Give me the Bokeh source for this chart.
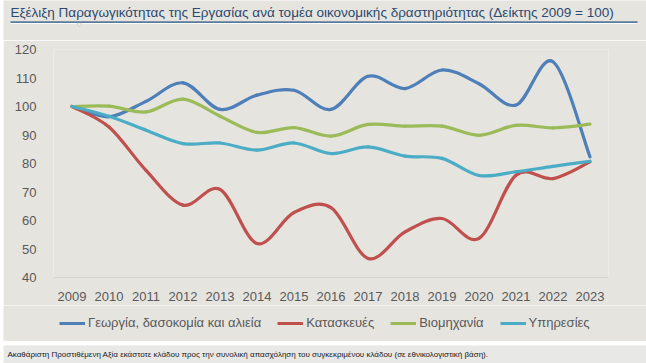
from bokeh.plotting import figure
from bokeh.models import (Range1d, FixedTicker, Label, BoxAnnotation, Legend,
                          LegendItem, ColumnDataSource, PolyAnnotation)
from bokeh.layouts import column
from bokeh.embed import file_html
from bokeh.resources import INLINE

# ---- data -------------------------------------------------------------
years = [2009, 2010, 2011, 2012, 2013, 2014, 2015, 2016, 2017, 2018, 2019, 2020, 2021, 2022, 2023]
agriculture = [100, 96.4, 101.8, 108.3, 99.0, 104.0, 105.7, 99.0, 110.6, 106.3, 112.8, 108.0, 100.5, 115.7, 82.3]
construction = [100, 92.8, 77.6, 65.4, 70.9, 51.9, 62.8, 64.5, 46.7, 56.0, 60.7, 53.7, 75.9, 74.7, 80.6]
industry = [100, 100.1, 98.1, 102.6, 96.6, 90.9, 92.6, 89.6, 93.7, 93.1, 93.1, 89.9, 93.4, 92.5, 93.8]
services = [100, 96.6, 91.7, 87.0, 87.2, 84.7, 87.2, 83.5, 85.8, 82.6, 81.8, 75.8, 77.1, 79.0, 80.8]
y_ticks = [40, 50, 60, 70, 80, 90, 100, 110, 120]
series_names = ["Γεωργία, δασοκομία και αλιεία", "Κατασκευές", "Βιομηχανία", "Υπηρεσίες"]
series_colors = ["#4f7fb8", "#c0504d", "#9bbb59", "#4bacc6"]
title_text = "Εξέλιξη Παραγωγικότητας της Εργασίας ανά τομέα οικονομικής δραστηριότητας (Δείκτης 2009 = 100)"
footnote_text = ("Ακαθάριστη Προστιθέμενη Αξία εκάστοτε κλάδου προς την συνολική απασχόληση "
                 "του συγκεκριμένου κλάδου (σε εθνικολογιστική βάση).")

BG = "#e5e4df"
FOOT = "#e8e8e6"
FONT = "Liberation Sans"
W = 643
all_series = [agriculture, construction, industry, services]


def smooth_segments(xs, ys):
    """Bezier control points for a smoothed line through the given points."""
    n = len(xs)
    d = dict(x0=[], y0=[], x1=[], y1=[], cx0=[], cy0=[], cx1=[], cy1=[])
    for i in range(n - 1):
        a = max(i - 1, 0)
        b = min(i + 2, n - 1)
        d["x0"].append(xs[i]); d["y0"].append(ys[i])
        d["x1"].append(xs[i + 1]); d["y1"].append(ys[i + 1])
        d["cx0"].append(xs[i] + (xs[i + 1] - xs[a]) / 6)
        d["cy0"].append(ys[i] + (ys[i + 1] - ys[a]) / 6)
        d["cx1"].append(xs[i + 1] - (xs[b] - xs[i]) / 6)
        d["cy1"].append(ys[i + 1] - (ys[b] - ys[i]) / 6)
    return ColumnDataSource(d)


def blank_fig(h, fill):
    f = figure(width=W, height=h, x_range=Range1d(0, W), y_range=Range1d(0, h),
               output_backend="svg", toolbar_location=None,
               x_axis_location=None, y_axis_location=None,
               min_border=0, min_border_left=0, min_border_right=0,
               min_border_top=0, min_border_bottom=0,
               background_fill_color=fill, border_fill_color=fill,
               outline_line_color=None, frame_align=False)
    f.xgrid.visible = False
    f.ygrid.visible = False
    return f


# ---- title band -------------------------------------------------------
t = blank_fig(40, BG)
t.add_layout(Label(x=7, y=28, text=title_text, text_font=FONT, text_font_size="13.5px",
                   text_color="#2c4a70", text_baseline="middle", text_align="left"))
t.add_layout(BoxAnnotation(left=7, right=634, bottom=17.6, top=19.2,
                           fill_color="#5b7a99", fill_alpha=1, line_color=None))
t.add_layout(BoxAnnotation(left=7, right=634, bottom=16.4, top=17.6,
                           fill_color="#ffffff", fill_alpha=1, line_color=None))
t.add_layout(PolyAnnotation(xs=[73, 79, 76], ys=[17.6, 17.6, 14.4],
                            fill_color="#f4f4f2", fill_alpha=1,
                            line_color="#8a9bb0", line_width=1))

# ---- main chart -------------------------------------------------------
p = figure(width=W, height=265, x_range=Range1d(2008.5, 2023.5), y_range=Range1d(40, 120),
           output_backend="svg", toolbar_location=None,
           min_border_left=50, min_border_right=38, min_border_top=9, min_border_bottom=28,
           background_fill_color=BG, border_fill_color=BG, outline_line_color=None,
           frame_align=False)
p.xgrid.visible = False
p.ygrid.visible = False

for ax in (p.xaxis[0], p.yaxis[0]):
    ax.major_tick_line_color = None
    ax.minor_tick_line_color = None
    ax.major_label_text_font = FONT
    ax.major_label_text_font_size = "13px"
    ax.major_label_text_color = "#595959"
p.xaxis.ticker = FixedTicker(ticks=years)
p.xaxis.axis_line_color = "#d6d5d0"
p.xaxis.major_label_standoff = 8
p.yaxis.ticker = FixedTicker(ticks=y_ticks)
p.yaxis.axis_line_color = None
p.yaxis.major_label_standoff = 11

for vals, col in zip(all_series, series_colors):
    src = smooth_segments(years, vals)
    p.bezier(x0="x0", y0="y0", x1="x1", y1="y1", cx0="cx0", cy0="cy0", cx1="cx1", cy1="cy1",
             source=src, line_color=col, line_width=3.2, line_cap="round")

# ---- legend band ------------------------------------------------------
# the legend band's x range (0..W px) lies far from the years, so these lines
# stay off-screen and only provide the legend glyphs
lg = blank_fig(36, BG)
legend_renderers = [lg.line(x=years, y=vals, line_color=c, line_width=3)
                    for vals, c in zip(all_series, series_colors)]
legend = Legend(items=[LegendItem(label=n, renderers=[r]) for n, r in zip(series_names, legend_renderers)],
                orientation="horizontal", location=(56, 11), margin=0, padding=0,
                spacing=16, glyph_width=26, glyph_height=14, label_standoff=3,
                label_text_font=FONT, label_text_font_size="13px", label_text_color="#595959",
                background_fill_alpha=0, border_line_color=None)
lg.add_layout(legend)

# ---- footnote band ----------------------------------------------------
f = blank_fig(18, FOOT)
f.add_layout(Label(x=4, y=9, text=footnote_text, text_font=FONT, text_font_size="8px",
                   text_color="#1a1a1a", text_baseline="middle", text_align="left"))

layout = column(column(t, p, lg, spacing=0), f, spacing=4, margin=(0, 0, 0, 3))
open("out.html", "w").write(file_html(layout, INLINE))
